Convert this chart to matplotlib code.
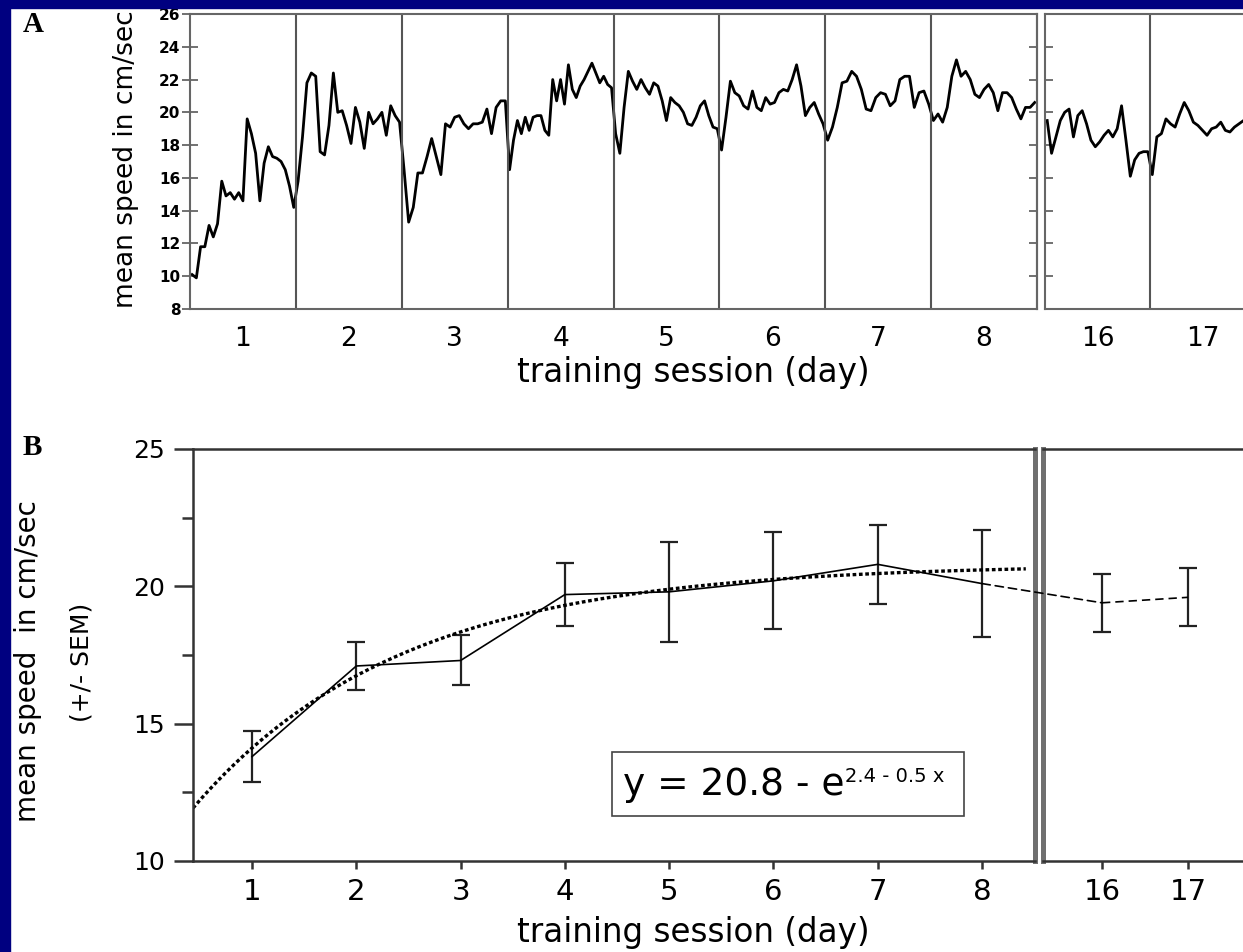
import numpy as np
import matplotlib.pyplot as plt
from matplotlib.patches import Rectangle, ConnectionPatch

# mean running speed per trial, cm/sec, one list per training day
day1 = [10.1, 9.9, 11.8, 11.8, 13.1, 12.4, 13.2, 15.8, 14.9, 15.1, 14.7, 15.1, 14.6,
        19.6, 18.7, 17.5, 14.6, 16.9, 17.9, 17.3, 17.2, 17.0, 16.5, 15.5, 14.2]
day2 = [15.8, 18.5, 21.8, 22.4, 22.2, 17.6, 17.4, 19.2, 22.4, 20.0, 20.1, 19.2,
        18.1, 20.3, 19.4, 17.8, 20.0, 19.3, 19.6, 20.0, 18.6, 20.4, 19.8, 19.4]
day3 = [16.5, 13.3, 14.2, 16.3, 16.3, 17.3, 18.4, 17.3, 16.2, 19.3, 19.1, 19.7,
        19.8, 19.3, 19.0, 19.3, 19.3, 19.4, 20.2, 18.7, 20.3, 20.7, 20.7]
day4 = [16.5, 18.3, 19.5, 18.7, 19.7, 18.9, 19.7, 19.8, 19.8, 18.9, 18.6, 22.0, 20.7,
        22.0, 20.5, 22.9, 21.4, 20.9, 21.6, 22.0, 22.5, 23.0, 22.4, 21.8, 22.2, 21.7, 21.5]
day5 = [18.7, 17.5, 20.3, 22.5, 21.9, 21.4, 22.0, 21.5, 21.1, 21.8, 21.6, 20.7, 19.5,
        20.9, 20.6, 20.4, 20.0, 19.3, 19.2, 19.7, 20.4, 20.7, 19.8, 19.1, 19.0]
day6 = [17.7, 19.7, 21.9, 21.2, 21.0, 20.4, 20.2, 21.3, 20.3, 20.1, 20.9, 20.5,
        20.6, 21.2, 21.4, 21.3, 22.0, 22.9, 21.6, 19.8, 20.3, 20.6, 19.9, 19.3]
day7 = [18.3, 19.1, 20.3, 21.8, 21.9, 22.5, 22.2, 21.4, 20.2, 20.1, 20.9, 21.2,
        21.1, 20.4, 20.7, 22.0, 22.2, 22.2, 20.3, 21.2, 21.3, 20.5]
day8 = [19.5, 19.9, 19.4, 20.3, 22.2, 23.2, 22.2, 22.5, 22.0, 21.1, 20.9, 21.4,
        21.7, 21.2, 20.1, 21.2, 21.2, 20.9, 20.2, 19.6, 20.3, 20.3, 20.6]
day16 = [19.5, 17.5, 18.5, 19.5, 20.0, 20.2, 18.5, 19.8, 20.1, 19.3, 18.3, 17.9,
         18.2, 18.6, 18.9, 18.5, 19.0, 20.4, 18.3, 16.1, 17.1, 17.5, 17.6, 17.6]
day17 = [16.2, 18.5, 18.7, 19.6, 19.3, 19.1, 19.9, 20.6, 20.1, 19.4, 19.2, 18.9,
         18.6, 19.0, 19.1, 19.4, 18.9, 18.8, 19.1, 19.3, 19.5, 19.4, 19.6]

early_trials = [day1, day2, day3, day4, day5, day6, day7, day8]
late_trials = [day16, day17]

# daily means +/- SEM
early_days = [1, 2, 3, 4, 5, 6, 7, 8]
early_mean = [13.8, 17.1, 17.3, 19.7, 19.8, 20.2, 20.8, 20.1]
early_sem = [0.93, 0.86, 0.91, 1.15, 1.82, 1.77, 1.44, 1.95]
late_days = [16, 17]
late_mean = [19.4, 19.6]
late_sem = [1.05, 1.05]

# exponential fit y = a - exp(b - c x)
fit_a, fit_b, fit_c = 20.8, 2.4, 0.5

W, H = 1243, 952
NAVY = '#000080'
GREY = '#666666'


def px_box(x0, y0, x1, y1):
    return [x0 / W, 1 - y1 / H, (x1 - x0) / W, (y1 - y0) / H]


def trial_xy(days, trials):
    xs, ys = [], []
    for d, vals in zip(days, trials):
        n = len(vals)
        xs.extend(d - 0.5 + (i + 0.5) / n for i in range(n))
        ys.extend(vals)
    return np.array(xs), np.array(ys)


fig = plt.figure(figsize=(W / 100, H / 100), dpi=100)
fig.patch.set_facecolor('white')

# ---- panel A: single trials ----
axA = fig.add_axes(px_box(190, 14, 1037, 309))
axA2 = fig.add_axes(px_box(1045, 14, 1255, 309))

x, y = trial_xy(early_days, early_trials)
axA.plot(x, y, color='black', lw=2)
x, y = trial_xy(late_days, late_trials)
axA2.plot(x, y, color='black', lw=2)

yticks_a = np.arange(8, 27, 2)
for ax, days in ((axA, early_days), (axA2, late_days)):
    ax.set_ylim(8, 26)
    ax.set_xlim(days[0] - 0.5, days[-1] + 0.5)
    ax.set_yticks(yticks_a)
    ax.set_xticks(days)
    ax.set_xticklabels([str(d) for d in days])
    ax.tick_params(axis='x', length=0, pad=12, labelsize=19)
    for d in days[:-1]:
        ax.axvline(d + 0.5, color='#555555', lw=1.5)
    for s in ax.spines.values():
        s.set_color(GREY)
        s.set_linewidth(1.5)

axA.tick_params(axis='y', direction='inout', length=12, width=1.3, color=GREY, pad=1)
for lab in axA.get_yticklabels():
    lab.set_fontsize(11)
    lab.set_fontweight('bold')
sec = axA.secondary_yaxis('right')
sec.set_yticks(yticks_a)
sec.tick_params(direction='in', length=6, width=1.3, color=GREY, labelright=False)
sec.spines['right'].set_color(GREY)
sec.spines['right'].set_linewidth(1.5)
axA2.tick_params(axis='y', direction='in', length=6, width=1.3, color=GREY, labelleft=False)

fig.text(126 / W, 1 - 159 / H, 'mean speed in cm/sec', rotation=90,
         ha='center', va='center', fontsize=19)
fig.text(693 / W, 1 - 382 / H, 'training session (day)', ha='center',
         va='baseline', fontsize=23.5)

# ---- panel B: daily means ----
axB = fig.add_axes(px_box(193, 449, 1035, 861))
axB2 = fig.add_axes(px_box(1043, 449, 1270, 861))

axB.errorbar(early_days, early_mean, yerr=early_sem, fmt='none', ecolor='#222222',
             elinewidth=1.6, capsize=6.5, capthick=1.6)
axB.plot(early_days, early_mean, color='black', lw=1.2)
axB2.errorbar(late_days, late_mean, yerr=late_sem, fmt='none', ecolor='#222222',
              elinewidth=1.6, capsize=6.5, capthick=1.6)
axB2.plot(late_days, late_mean, color='black', lw=1.2, ls=(0, (5, 3)))
bridge = ConnectionPatch(xyA=(early_days[-1], early_mean[-1]), coordsA=axB.transData,
                         xyB=(late_days[0], late_mean[0]), coordsB=axB2.transData,
                         color='black', lw=1.2, ls=(0, (5, 3)))
fig.add_artist(bridge)

xf = np.linspace(0.434, 8.42, 200)
axB.plot(xf, fit_a - np.exp(fit_b - fit_c * xf), color='black', lw=2.4,
         ls=(0, (1.1, 0.8)))

axB.set_xlim(0.434, 8.508)
axB2.set_xlim(15.314, 15.314 + 227 / 86)
for ax, days in ((axB, early_days), (axB2, late_days)):
    ax.set_ylim(10, 25)
    ax.set_xticks(days)
    ax.set_xticklabels([str(d) for d in days])
    ax.tick_params(axis='x', direction='out', length=6, width=1.8, pad=6.5,
                   labelsize=21, color='#333333')
    for s in ax.spines.values():
        s.set_color('#333333')
        s.set_linewidth(1.8)

axB.set_yticks([10, 15, 20, 25])
axB.set_yticks([12.5, 17.5, 22.5], minor=True)
axB.tick_params(axis='y', which='major', direction='out', length=14, width=1.8,
                pad=6, labelsize=18, color='#333333')
axB.tick_params(axis='y', which='minor', direction='out', length=8, width=1.8,
                color='#333333')
axB.spines['right'].set_color('#707070')
axB.spines['right'].set_linewidth(3.6)
axB2.tick_params(axis='y', left=False, labelleft=False)
axB2.spines['left'].set_color('#707070')
axB2.spines['left'].set_linewidth(3.6)
axB2.spines['right'].set_visible(False)

# fitted equation in a box
main = axB.text(0.5107, 0.160, f'y = {fit_a} - e', transform=axB.transAxes,
                ha='left', va='baseline', fontsize=27)
axB.annotate(f'{fit_b} - {fit_c} x', xy=(1, 1), xycoords=main, xytext=(0, 0),
             textcoords='offset points', ha='left', va='top', fontsize=14)
axB.add_patch(Rectangle((0.4976, 0.1092), 0.4181, 0.1554, transform=axB.transAxes,
                        fill=False, ec='#444444', lw=1.2))

fig.text(28 / W, 1 - 661 / H, 'mean speed  in cm/sec', rotation=90,
         ha='center', va='center', fontsize=20)
fig.text(82 / W, 1 - 662 / H, '(+/- SEM)', rotation=90,
         ha='center', va='center', fontsize=18)
fig.text(693 / W, 1 - 942 / H, 'training session (day)', ha='center',
         va='baseline', fontsize=23.5)

# panel letters
for letter, ytop in (('A', 11), ('B', 434)):
    fig.text(23 / W, 1 - ytop / H, letter, ha='left', va='top', fontsize=21,
             family='Liberation Serif', weight='bold')

# navy frame along the top and left edges
fig.add_artist(Rectangle((0, 1 - 8 / H), 1, 8 / H, transform=fig.transFigure,
                         color=NAVY, zorder=10))
fig.add_artist(Rectangle((0, 0), 10 / W, 1, transform=fig.transFigure,
                         color=NAVY, zorder=10))

fig.savefig('out.png', dpi=100)
